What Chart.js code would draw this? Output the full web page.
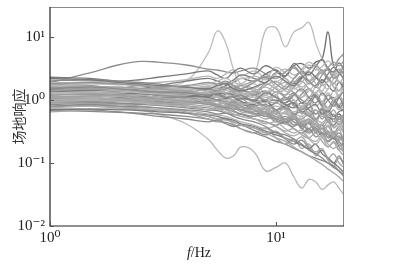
<!DOCTYPE html>
<html>
<head>
<meta charset="utf-8">
<script src="https://cdn.jsdelivr.net/npm/chart.js@4/dist/chart.umd.min.js"></script>
<style>
  html, body { margin: 0; padding: 0; background: #fff; }
  #wrap { width: 395px; height: 266px; }
</style>
</head>
<body>
<div id="wrap"><canvas id="c" width="395" height="266"></canvas></div>
<script>
// frequency grid (Hz) shared by every curve
var freqs = [1, 1.5, 2, 2.5, 3, 4, 5, 5.5, 6, 6.5, 7, 8, 9, 10, 11, 12, 13, 14, 15, 16, 17, 18, 19, 20];

var xTicks = [1, 10];
var yTicks = [0.01, 0.1, 1, 10];

// outlying curves
var hiA = [1.9, 2.7, 3.6, 4.1, 4.0, 3.6, 3.1, 3.0, 2.8, 2.7, 2.9, 3.2, 2.6, 2.2, 2.8, 3.4, 2.5, 2.0, 2.4, 3.0, 2.2, 1.8, 2.5, 2.9];
var spike = [1.4, 1.3, 1.2, 1.4, 1.6, 2.0, 5.5, 12.5, 8.0, 3.0, 1.8, 1.5, 2.2, 1.6, 1.2, 1.9, 1.4, 1.1, 1.6, 1.3, 1.0, 1.4, 1.1, 0.9];
var hiB = [1.3, 1.2, 1.1, 1.2, 1.3, 1.5, 1.7, 1.8, 1.9, 2.0, 2.2, 2.5, 13, 14, 7, 12, 14, 17, 8, 4.5, 3.0, 2.4, 2.0, 1.8];
var darkSpike = [1.0, 1.1, 1.2, 1.3, 1.2, 1.4, 1.6, 1.5, 1.7, 1.9, 2.2, 2.0, 2.6, 3.0, 2.4, 3.5, 3.8, 3.2, 4.0, 4.5, 12, 3.5, 4.5, 5.5];
var lowA = [0.95, 0.9, 0.8, 0.7, 0.6, 0.42, 0.24, 0.16, 0.12, 0.13, 0.18, 0.15, 0.075, 0.085, 0.1, 0.06, 0.04, 0.055, 0.05, 0.038, 0.045, 0.05, 0.04, 0.031];

// the main bundle of site responses
var band = [
  [1.5, 1.6, 1.5, 1.4, 1.35, 1.3, 1.2, 1.25, 1.1, 1.15, 1.2, 1.0, 1.3, 1.1, 0.9, 1.2, 1.5, 1.1, 0.9, 1.3, 1.0, 0.8, 1.1, 1.4],
  [1.2, 1.25, 1.2, 1.1, 1.05, 0.95, 0.9, 0.85, 0.8, 0.85, 0.75, 0.7, 0.6, 0.65, 0.5, 0.55, 0.45, 0.5, 0.4, 0.35, 0.45, 0.3, 0.38, 0.32],
  [0.95, 1.0, 0.95, 0.9, 0.85, 0.8, 0.7, 0.72, 0.65, 0.6, 0.55, 0.5, 0.42, 0.45, 0.35, 0.3, 0.33, 0.25, 0.22, 0.28, 0.2, 0.17, 0.2, 0.15],
  [1.8, 1.9, 1.8, 1.7, 1.6, 1.7, 1.9, 1.8, 2.0, 1.7, 1.5, 1.9, 2.3, 1.8, 1.5, 2.2, 2.8, 2.0, 1.7, 2.5, 3.0, 2.2, 2.6, 3.4],
  [1.3, 1.35, 1.4, 1.3, 1.25, 1.2, 1.3, 1.1, 1.0, 1.15, 1.3, 1.1, 0.9, 1.2, 1.4, 1.0, 0.8, 1.1, 1.3, 0.9, 0.7, 1.0, 1.2, 0.9],
  [1.1, 1.05, 1.0, 0.95, 0.9, 0.85, 0.8, 0.75, 0.7, 0.6, 0.55, 0.5, 0.45, 0.38, 0.32, 0.35, 0.28, 0.25, 0.3, 0.22, 0.18, 0.22, 0.16, 0.13],
  [2.2, 2.1, 1.9, 1.8, 1.7, 1.6, 1.5, 1.7, 1.8, 1.5, 1.4, 1.6, 1.9, 2.4, 2.0, 1.7, 2.2, 2.8, 2.3, 1.9, 2.6, 3.3, 2.7, 2.2],
  [0.8, 0.85, 0.8, 0.78, 0.75, 0.7, 0.65, 0.6, 0.62, 0.55, 0.5, 0.45, 0.38, 0.3, 0.28, 0.24, 0.2, 0.16, 0.14, 0.12, 0.1, 0.09, 0.075, 0.06],
  [1.4, 1.5, 1.6, 1.55, 1.5, 1.4, 1.3, 1.4, 1.6, 1.3, 1.1, 1.2, 1.0, 0.9, 1.1, 0.8, 0.7, 0.9, 0.6, 0.75, 0.55, 0.7, 0.5, 0.6],
  [1.0, 1.1, 1.15, 1.2, 1.1, 1.0, 1.05, 0.95, 0.9, 1.0, 0.85, 0.9, 0.75, 0.8, 0.7, 0.65, 0.75, 0.6, 0.7, 0.55, 0.6, 0.5, 0.45, 0.55],
  [1.6, 1.5, 1.4, 1.3, 1.2, 1.1, 1.0, 0.95, 0.9, 0.95, 0.85, 0.8, 0.85, 0.7, 0.75, 0.6, 0.65, 0.55, 0.5, 0.6, 0.45, 0.4, 0.5, 0.42],
  [1.25, 1.3, 1.3, 1.35, 1.4, 1.5, 1.6, 1.5, 1.4, 1.6, 1.8, 1.5, 1.3, 1.9, 2.2, 1.6, 1.4, 2.0, 2.4, 1.8, 1.5, 2.2, 2.8, 2.0],
  [0.9, 0.88, 0.85, 0.8, 0.75, 0.65, 0.55, 0.5, 0.48, 0.45, 0.4, 0.36, 0.3, 0.32, 0.25, 0.22, 0.26, 0.18, 0.15, 0.17, 0.12, 0.14, 0.1, 0.085],
  [1.35, 1.4, 1.3, 1.25, 1.2, 1.15, 1.1, 1.0, 1.05, 1.1, 0.95, 0.85, 1.0, 0.7, 0.8, 0.9, 0.65, 0.75, 0.85, 0.6, 0.7, 0.55, 0.65, 0.7],
  [2.0, 2.1, 2.0, 1.9, 1.8, 1.6, 1.5, 1.4, 1.5, 1.6, 1.3, 1.2, 1.4, 1.1, 1.0, 1.3, 0.9, 1.1, 1.2, 0.8, 1.0, 1.1, 0.75, 0.9],
  [1.1, 1.15, 1.2, 1.25, 1.3, 1.35, 1.5, 1.7, 1.6, 1.5, 1.7, 2.0, 2.4, 2.2, 2.8, 3.2, 2.6, 3.0, 3.6, 2.9, 3.3, 4.0, 3.5, 4.2],
  [0.75, 0.8, 0.78, 0.75, 0.7, 0.68, 0.6, 0.58, 0.55, 0.5, 0.45, 0.4, 0.35, 0.38, 0.3, 0.27, 0.3, 0.24, 0.2, 0.25, 0.18, 0.21, 0.16, 0.19],
  [1.3, 1.25, 1.15, 1.1, 1.05, 0.95, 0.85, 0.8, 0.75, 0.72, 0.7, 0.62, 0.55, 0.5, 0.45, 0.5, 0.38, 0.42, 0.32, 0.36, 0.28, 0.25, 0.3, 0.22],
  [1.7, 1.8, 1.75, 1.7, 1.6, 1.5, 1.45, 1.4, 1.3, 1.35, 1.25, 1.3, 1.1, 1.2, 1.5, 1.3, 1.1, 1.4, 1.7, 1.2, 1.5, 1.9, 1.4, 1.6],
  [1.05, 1.0, 1.0, 1.05, 1.0, 0.9, 0.95, 1.0, 0.85, 0.8, 0.9, 0.75, 0.7, 0.6, 0.75, 0.55, 0.5, 0.6, 0.45, 0.4, 0.5, 0.36, 0.42, 0.35],
  [1.45, 1.4, 1.35, 1.3, 1.25, 1.2, 1.15, 1.25, 1.3, 1.2, 1.1, 1.0, 0.95, 1.0, 0.85, 0.75, 0.9, 0.7, 0.6, 0.72, 0.55, 0.5, 0.6, 0.48],
  [0.85, 0.9, 0.88, 0.85, 0.82, 0.75, 0.7, 0.68, 0.62, 0.58, 0.6, 0.5, 0.45, 0.4, 0.45, 0.35, 0.3, 0.35, 0.26, 0.3, 0.22, 0.25, 0.19, 0.21],
  [1.2, 1.25, 1.3, 1.3, 1.35, 1.3, 1.25, 1.2, 1.3, 1.4, 1.5, 1.3, 1.7, 2.0, 1.6, 1.9, 2.4, 1.8, 2.2, 2.8, 2.1, 2.6, 3.1, 2.5],
  [1.55, 1.6, 1.55, 1.5, 1.45, 1.35, 1.2, 1.1, 1.05, 1.0, 0.9, 0.8, 0.72, 0.65, 0.6, 0.52, 0.48, 0.42, 0.38, 0.34, 0.3, 0.28, 0.24, 0.22],
  [1.0, 0.95, 0.9, 0.88, 0.86, 0.8, 0.75, 0.7, 0.72, 0.65, 0.6, 0.55, 0.6, 0.45, 0.5, 0.4, 0.42, 0.32, 0.36, 0.28, 0.3, 0.24, 0.27, 0.2],
  [1.9, 1.85, 1.8, 1.75, 1.7, 1.65, 1.8, 2.0, 2.2, 1.9, 1.8, 2.4, 2.1, 2.6, 3.1, 2.5, 2.9, 3.6, 3.0, 3.4, 4.2, 3.5, 4.6, 5.2],
  [1.15, 1.1, 1.05, 1.0, 0.98, 0.92, 0.85, 0.8, 0.78, 0.75, 0.65, 0.6, 0.5, 0.55, 0.42, 0.38, 0.45, 0.3, 0.34, 0.26, 0.22, 0.28, 0.2, 0.16],
  [0.7, 0.72, 0.7, 0.68, 0.65, 0.62, 0.58, 0.55, 0.5, 0.48, 0.42, 0.38, 0.32, 0.28, 0.25, 0.22, 0.19, 0.17, 0.2, 0.14, 0.12, 0.1, 0.085, 0.07],
  [1.35, 1.3, 1.2, 1.15, 1.1, 1.1, 1.15, 1.2, 1.1, 1.0, 1.05, 0.95, 0.8, 0.9, 1.1, 0.85, 0.7, 0.95, 1.2, 0.8, 0.65, 0.9, 1.1, 0.75],
  [1.6, 1.65, 1.6, 1.5, 1.4, 1.25, 1.1, 1.0, 0.95, 0.9, 0.8, 0.7, 0.65, 0.55, 0.48, 0.5, 0.4, 0.35, 0.42, 0.3, 0.26, 0.32, 0.24, 0.27],
  [1.25, 1.2, 1.25, 1.3, 1.25, 1.2, 1.1, 1.15, 1.2, 1.3, 1.25, 1.4, 1.6, 1.35, 1.7, 2.0, 1.6, 1.9, 2.3, 1.7, 2.0, 2.5, 1.9, 2.3],
  [0.9, 0.95, 1.0, 0.95, 0.9, 0.85, 0.9, 0.8, 0.75, 0.82, 0.7, 0.6, 0.65, 0.5, 0.55, 0.45, 0.38, 0.45, 0.34, 0.28, 0.32, 0.24, 0.26, 0.2],
  [1.45, 1.5, 1.45, 1.4, 1.3, 1.25, 1.3, 1.35, 1.25, 1.15, 1.2, 1.1, 1.2, 0.95, 1.05, 1.2, 0.9, 1.0, 0.8, 0.95, 0.75, 0.85, 0.7, 0.8],
  [0.65, 0.7, 0.72, 0.7, 0.68, 0.62, 0.55, 0.5, 0.52, 0.45, 0.4, 0.36, 0.3, 0.25, 0.22, 0.18, 0.15, 0.13, 0.11, 0.095, 0.08, 0.07, 0.06, 0.05]
];

// more jagged curves that fill the bundle
var band2 = [
  [2.3, 2.2, 2.0, 2.1, 2.3, 2.6, 2.9, 2.5, 2.2, 2.8, 3.2, 2.6, 3.5, 2.9, 2.4, 3.8, 3.0, 2.5, 3.4, 4.4, 3.2, 2.8, 3.9, 3.1],
  [0.72, 0.7, 0.65, 0.6, 0.55, 0.5, 0.45, 0.48, 0.42, 0.38, 0.4, 0.33, 0.28, 0.31, 0.24, 0.2, 0.23, 0.17, 0.14, 0.16, 0.12, 0.1, 0.13, 0.09],
  [1.2, 1.3, 1.5, 1.7, 1.6, 1.4, 1.2, 1.35, 1.6, 1.3, 1.0, 1.4, 0.9, 1.2, 0.7, 1.0, 0.6, 0.85, 0.5, 0.7, 0.45, 0.6, 0.4, 0.5],
  [1.0, 0.9, 0.85, 0.9, 1.0, 1.1, 0.9, 0.8, 0.95, 1.1, 0.8, 0.6, 0.75, 0.5, 0.65, 0.4, 0.55, 0.35, 0.48, 0.3, 0.4, 0.26, 0.34, 0.22],
  [1.8, 1.7, 1.5, 1.4, 1.5, 1.3, 1.1, 1.2, 1.0, 0.9, 1.05, 0.8, 0.95, 0.7, 0.85, 0.6, 0.75, 0.55, 0.7, 0.5, 0.65, 0.45, 0.55, 0.4],
  [1.1, 1.2, 1.25, 1.2, 1.1, 1.2, 1.4, 1.6, 1.3, 1.1, 1.5, 1.8, 1.3, 1.6, 2.2, 1.5, 1.9, 2.6, 1.8, 1.4, 2.0, 1.6, 1.2, 1.7],
  [0.85, 0.8, 0.75, 0.72, 0.7, 0.62, 0.5, 0.45, 0.5, 0.42, 0.35, 0.3, 0.36, 0.25, 0.2, 0.24, 0.17, 0.2, 0.13, 0.16, 0.11, 0.09, 0.12, 0.1],
  [1.4, 1.45, 1.4, 1.5, 1.7, 2.0, 2.2, 2.0, 1.8, 2.1, 2.5, 2.2, 1.9, 2.7, 2.2, 1.8, 2.3, 2.0, 1.6, 2.1, 1.7, 1.4, 1.9, 1.5],
  [1.25, 1.2, 1.1, 1.0, 0.95, 0.9, 1.0, 1.1, 0.9, 0.8, 0.85, 0.7, 0.55, 0.7, 0.45, 0.55, 0.35, 0.45, 0.3, 0.4, 0.25, 0.3, 0.22, 0.18],
  [0.95, 1.0, 1.05, 1.1, 1.15, 1.05, 0.9, 0.85, 0.95, 0.8, 0.7, 0.8, 0.65, 0.9, 0.7, 0.55, 0.8, 0.6, 0.45, 0.65, 0.5, 0.38, 0.55, 0.45],
  [1.6, 1.55, 1.45, 1.35, 1.3, 1.4, 1.6, 1.5, 1.3, 1.5, 1.7, 1.4, 1.2, 1.6, 1.9, 1.3, 1.1, 1.5, 1.2, 0.95, 1.3, 1.0, 0.85, 1.1],
  [0.78, 0.82, 0.86, 0.9, 0.88, 0.8, 0.7, 0.75, 0.8, 0.68, 0.6, 0.55, 0.62, 0.48, 0.42, 0.5, 0.36, 0.3, 0.35, 0.26, 0.22, 0.27, 0.18, 0.15],
  [2.1, 2.0, 1.9, 1.85, 1.9, 2.1, 2.4, 2.2, 2.6, 3.0, 2.4, 2.9, 2.3, 3.3, 2.7, 2.2, 3.1, 4.0, 3.3, 2.6, 3.2, 2.5, 2.9, 3.6],
  [1.3, 1.35, 1.3, 1.2, 1.1, 1.0, 0.9, 0.95, 0.85, 0.9, 0.8, 0.65, 0.75, 0.6, 0.5, 0.6, 0.42, 0.5, 0.36, 0.3, 0.38, 0.27, 0.23, 0.28],
  [1.05, 1.1, 1.2, 1.3, 1.35, 1.3, 1.2, 1.1, 1.25, 1.4, 1.2, 1.0, 1.3, 1.1, 0.9, 1.2, 1.0, 0.85, 1.15, 0.9, 0.75, 1.0, 0.8, 0.65],
  [0.68, 0.66, 0.64, 0.62, 0.6, 0.55, 0.5, 0.46, 0.44, 0.4, 0.35, 0.3, 0.26, 0.22, 0.2, 0.17, 0.15, 0.13, 0.12, 0.11, 0.1, 0.085, 0.075, 0.065],
  [1.5, 1.45, 1.4, 1.45, 1.5, 1.55, 1.4, 1.3, 1.5, 1.7, 1.5, 1.3, 1.8, 1.5, 1.2, 1.6, 2.0, 1.5, 1.3, 1.8, 2.3, 1.6, 1.4, 2.0],
  [1.15, 1.1, 1.0, 0.95, 0.92, 0.9, 0.95, 0.85, 0.75, 0.8, 0.7, 0.75, 0.6, 0.52, 0.62, 0.45, 0.4, 0.48, 0.35, 0.42, 0.32, 0.28, 0.35, 0.3],
  [0.9, 0.92, 0.95, 1.0, 1.05, 1.15, 1.3, 1.2, 1.1, 1.25, 1.4, 1.2, 1.0, 1.35, 1.1, 0.9, 1.25, 1.5, 1.1, 0.85, 1.2, 0.95, 0.8, 1.05],
  [1.7, 1.65, 1.55, 1.45, 1.35, 1.2, 1.05, 1.0, 1.1, 0.95, 0.85, 0.95, 0.8, 0.7, 0.78, 0.62, 0.55, 0.65, 0.5, 0.44, 0.52, 0.4, 0.46, 0.36]
];

var grays = ['#8a8a8a', '#a0a0a0', '#b0b0b0', '#959595', '#b8b8b8', '#a6a6a6', '#7a7a7a'];

function toPoints(vals) {
  return vals.map(function (v, i) { return { x: freqs[i], y: v }; });
}

function line(vals, color) {
  return {
    data: toPoints(vals),
    borderColor: color,
    borderWidth: 1.3,
    pointRadius: 0,
    tension: 0.4,
    fill: false
  };
}

var datasets = [];
band.concat(band2).forEach(function (vals, i) {
  datasets.push(line(vals, grays[i % grays.length]));
});
datasets.push(line(hiA, '#8e8e8e'));
datasets.push(line(spike, '#bdbdbd'));
datasets.push(line(hiB, '#bdbdbd'));
datasets.push(line(lowA, '#b8b8b8'));
datasets.push(line(darkSpike, '#6e6e6e'));

var sup = { '0': '\u2070', '1': '\u00b9', '2': '\u00b2', '-': '\u207b' };
function powLabel(v) {
  var e = String(Math.round(Math.log10(v)));
  return '10' + e.split('').map(function (ch) { return sup[ch]; }).join('');
}

// frame (top/right lighter), inward ticks and the mixed-style x title
var frame = {
  id: 'frame',
  afterDraw: function (chart) {
    var a = chart.chartArea, ctx = chart.ctx;
    var xs = chart.scales.x, ys = chart.scales.y;
    ctx.save();
    ctx.lineWidth = 1;
    ctx.strokeStyle = '#8a8a8a';
    ctx.beginPath();
    ctx.moveTo(a.left, a.top + 0.5);
    ctx.lineTo(a.right - 0.5, a.top + 0.5);
    ctx.lineTo(a.right - 0.5, a.bottom);
    ctx.stroke();
    ctx.strokeStyle = '#222';
    ctx.lineWidth = 1.2;
    ctx.beginPath();
    ctx.moveTo(a.left, a.top);
    ctx.lineTo(a.left, a.bottom);
    ctx.lineTo(a.right, a.bottom);
    ctx.stroke();
    ctx.lineWidth = 1;
    ctx.strokeStyle = '#555';
    ctx.beginPath();
    yTicks.forEach(function (t) {
      var p = Math.round(ys.getPixelForValue(t)) + 0.5;
      ctx.moveTo(a.left, p);
      ctx.lineTo(a.left + 4, p);
    });
    xTicks.forEach(function (t) {
      var p = Math.round(xs.getPixelForValue(t)) + 0.5;
      ctx.moveTo(p, a.bottom);
      ctx.lineTo(p, a.bottom - 4);
    });
    ctx.stroke();

    ctx.fillStyle = '#222';
    ctx.textBaseline = 'alphabetic';
    var cx = (a.left + a.right) / 2 + 2;
    ctx.font = 'italic 14px "Liberation Serif", serif';
    var w1 = ctx.measureText('f').width;
    ctx.font = '14px "Liberation Serif", serif';
    var w2 = ctx.measureText('/Hz').width;
    var x0 = cx - (w1 + w2) / 2;
    ctx.font = 'italic 14px "Liberation Serif", serif';
    ctx.fillText('f', x0, 257);
    ctx.font = '14px "Liberation Serif", serif';
    ctx.fillText('/Hz', x0 + w1, 257);
    ctx.restore();
  }
};

new Chart(document.getElementById('c'), {
  type: 'line',
  data: { datasets: datasets },
  options: {
    responsive: false,
    animation: false,
    events: [],
    layout: { padding: { top: 7, right: 51, left: 0, bottom: 0 } },
    plugins: { legend: { display: false }, tooltip: { enabled: false } },
    scales: {
      x: {
        type: 'logarithmic',
        min: 1,
        max: 20,
        afterBuildTicks: function (s) { s.ticks = xTicks.map(function (v) { return { value: v }; }); },
        afterFit: function (s) { s.height = 40; },
        grid: { display: false, drawTicks: false },
        border: { display: false },
        ticks: {
          padding: 3,
          maxRotation: 0,
          color: '#222',
          font: { family: '"Liberation Serif", "DejaVu Serif", serif', size: 15 },
          callback: function (v) { return powLabel(v); }
        }
      },
      y: {
        type: 'logarithmic',
        min: 0.01,
        max: 30,
        afterBuildTicks: function (s) { s.ticks = yTicks.map(function (v) { return { value: v }; }); },
        afterFit: function (s) { s.width = 50; s.paddingTop = 0; s.paddingBottom = 0; },
        grid: { display: false, drawTicks: false },
        border: { display: false },
        title: {
          display: true,
          text: '场地响应',
          color: '#333',
          padding: { top: 10, bottom: 0 },
          font: { family: '"Noto Sans CJK SC", sans-serif', size: 14 }
        },
        ticks: {
          padding: 5,
          color: '#222',
          font: { family: '"Liberation Serif", "DejaVu Serif", serif', size: 15 },
          callback: function (v) { return powLabel(v); }
        }
      }
    }
  },
  plugins: [frame]
});
</script>
</body>
</html>
